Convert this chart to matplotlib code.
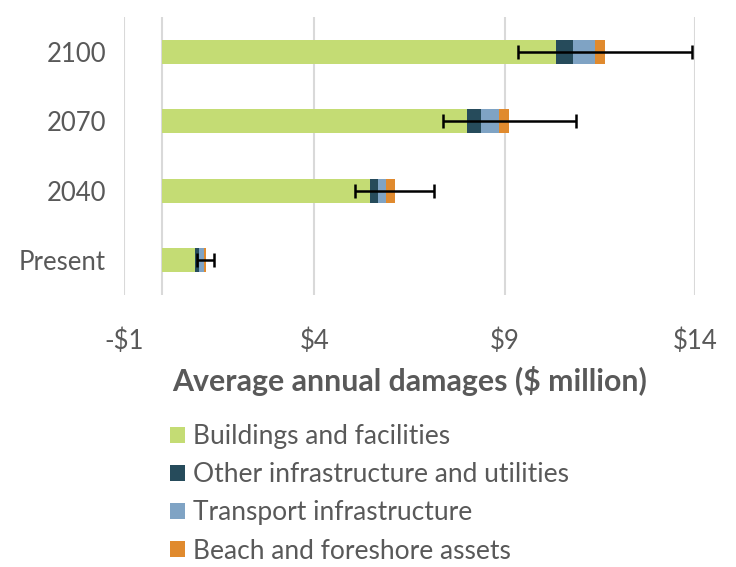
import matplotlib
matplotlib.use("Agg")
import matplotlib.pyplot as plt
from matplotlib.patches import Patch
import numpy as np

plt.rcParams['font.family'] = ['Lato', 'DejaVu Sans']

categories = ["Present", "2040", "2070", "2100"]
buildings = [0.87, 5.47, 8.02, 10.36]
other_infra = [0.11, 0.19, 0.37, 0.44]
transport = [0.13, 0.23, 0.46, 0.57]
beach = [0.04, 0.22, 0.27, 0.26]
error = [0.22, 1.03, 1.75, 2.28]
xticks = [-1, 4, 9, 14]
xtick_labels = ["-$1", "$4", "$9", "$14"]

series = [
    ("Buildings and facilities", buildings, "#C4DC74"),
    ("Other infrastructure and utilities", other_infra, "#264B5B"),
    ("Transport infrastructure", transport, "#7FA3C4"),
    ("Beach and foreshore assets", beach, "#E08A2E"),
]

text_color = "#595959"
grid_color = "#D9D9D9"

fig = plt.figure(figsize=(7.36, 5.67), dpi=100)
ax = fig.add_axes([124/736, 1-295/567, (695-124)/736, (295-17)/567])

y = np.arange(len(categories))
left = np.zeros(len(categories))
handles = []
for name, vals, col in series:
    ax.barh(y, vals, left=left, height=0.35, color=col, zorder=3)
    left = left + np.array(vals)
    handles.append(Patch(facecolor=col, edgecolor='none', label=name))

ax.errorbar(left, y, xerr=error, fmt='none', ecolor='black', elinewidth=1.8,
            capsize=5, capthick=1.8, zorder=4)

ax.set_xlim(-1, 14)
ax.set_ylim(-0.5, 3.5)
ax.set_xticks(xticks)
ax.set_xticklabels(xtick_labels)
ax.set_yticks(y)
ax.set_yticklabels(categories)
ax.tick_params(axis='both', length=0, labelsize=18.5, colors=text_color)
ax.tick_params(axis='x', pad=24)
ax.tick_params(axis='y', pad=13)
ax.xaxis.grid(True, color=grid_color, linewidth=1.5, zorder=0)
ax.axvline(0, color=grid_color, linewidth=1.5, zorder=1)
for s in ax.spines.values():
    s.set_visible(False)

fig.text((124+695)/2/736, 1-381/567, "Average annual damages ($ million)",
         ha='center', va='center', fontsize=21.8, fontweight='bold', color=text_color)

leg = fig.legend(handles=handles, loc='upper left', bbox_to_anchor=(170/736, 1-424/567),
                 frameon=False, fontsize=19.0, handlelength=0.57, handleheight=0.57,
                 handletextpad=0.3, labelspacing=0.50, borderpad=0, borderaxespad=0)
for t in leg.get_texts():
    t.set_color(text_color)

fig.savefig("out.png", dpi=100)
